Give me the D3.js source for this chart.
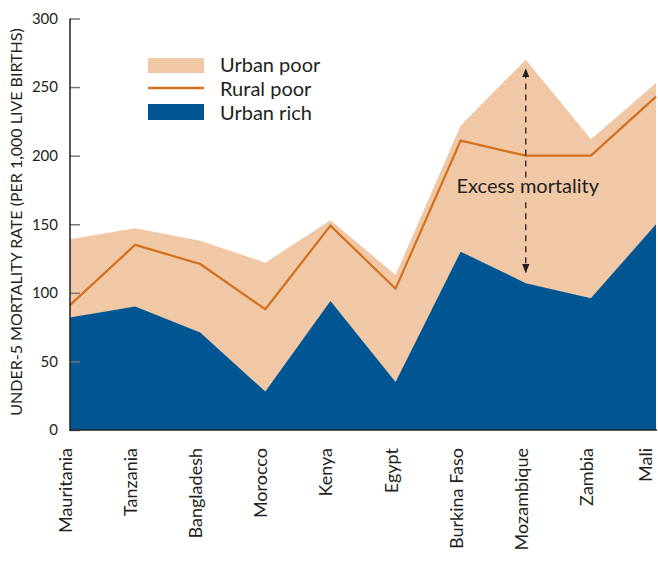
<!DOCTYPE html>
<html><head><meta charset="utf-8">
<script src="https://cdn.jsdelivr.net/npm/d3@7"></script>
<style>
body{margin:0;background:#fff;}
svg{display:block;font-family:Lato,"Open Sans",sans-serif;}
</style></head>
<body><svg id="c" width="658" height="561"></svg>
<script>
const countries = ["Mauritania","Tanzania","Bangladesh","Morocco","Kenya","Egypt","Burkina Faso","Mozambique","Zambia","Mali"];
const urbanPoor = [139, 147, 138, 122, 153, 113, 222, 270, 212, 253];
const ruralPoor = [91, 135, 121, 88, 149, 103, 211, 200, 200, 243];
const urbanRich = [82, 90, 71, 28, 94, 35, 130, 107, 96, 150];
const yTicks = [0, 50, 100, 150, 200, 250, 300];
const annotationLabel = "Excess mortality";
const annotationCountry = "Mozambique";
const arrowRange = [263, 115];
const arrowGap = [184, 166];

const svg = d3.select("#c");
const x = d3.scalePoint().domain(countries).range([70, 656]);
const y = d3.scaleLinear().domain([0, 300]).range([430, 18.5]);

const cPoor = "#f0c8a6", cRural = "#d2701e", cRich = "#005593";

const area = vals => d3.area().x((d,i)=>x(countries[i])).y0(y(0)).y1(d=>y(d))(vals);
svg.append("path").attr("d", area(urbanPoor)).attr("fill", cPoor);
svg.append("path").attr("d", area(urbanRich)).attr("fill", cRich);
svg.append("path").attr("d", d3.line().x((d,i)=>x(countries[i])).y(d=>y(d))(ruralPoor))
  .attr("fill","none").attr("stroke", cRural).attr("stroke-width", 2.2);

// Y axis
const ya = svg.append("g").attr("transform","translate(70,0)")
  .call(d3.axisLeft(y).tickValues(yTicks).tickSize(-10).tickPadding(22));
ya.select(".domain").remove();
ya.selectAll(".tick line").attr("stroke","#777").attr("stroke-width",1.5);
ya.selectAll(".tick text").attr("font-size",15).attr("fill","#231f20").attr("font-family","Lato,sans-serif").attr("x",-12);
svg.append("line").attr("x1",70).attr("x2",70).attr("y1",y(300)).attr("y2",y(0)+1).attr("stroke","#231f20").attr("stroke-width",1.5);
svg.append("line").attr("x1",69.3).attr("x2",657).attr("y1",y(0)).attr("y2",y(0)).attr("stroke","#231f20").attr("stroke-width",1.5);

svg.append("text").attr("transform","translate(22,222) rotate(-90)").attr("text-anchor","middle")
  .attr("font-size",16).attr("fill","#231f20").text("UNDER-5 MORTALITY RATE (PER 1,000 LIVE BIRTHS)");

// X labels
svg.append("g").selectAll("text").data(countries).join("text")
  .attr("transform", d=>`translate(${Math.min(x(d)+2, 652)},448) rotate(-90)`)
  .attr("text-anchor","end").attr("font-size",18).attr("fill","#231f20").text(d=>d);

// Legend
const lg = svg.append("g");
lg.append("rect").attr("x",148).attr("y",58).attr("width",56).attr("height",15).attr("fill",cPoor);
lg.append("line").attr("x1",148).attr("x2",204).attr("y1",88).attr("y2",88).attr("stroke",cRural).attr("stroke-width",2.5);
lg.append("rect").attr("x",148).attr("y",104).attr("width",56).attr("height",16).attr("fill",cRich);
["Urban poor","Rural poor","Urban rich"].forEach((t,i)=>{
  lg.append("text").attr("x",220).attr("y",72+i*24).attr("font-size",20).attr("fill","#231f20").text(t);
});

// Annotation
svg.append("defs").html(`<marker id="ah" viewBox="0 0 10 10" refX="9" refY="5" markerWidth="7" markerHeight="9" orient="auto-start-reverse"><path d="M0,1 L10,5 L0,9 z" fill="#231f20"/></marker>`);
const ax = x(annotationCountry);
svg.append("line").attr("x1",ax).attr("x2",ax).attr("y1",y(arrowGap[0])).attr("y2",y(arrowRange[0]))
  .attr("stroke","#231f20").attr("stroke-width",1.3).attr("stroke-dasharray","6,5").attr("marker-end","url(#ah)");
svg.append("line").attr("x1",ax).attr("x2",ax).attr("y1",y(arrowGap[1])).attr("y2",y(arrowRange[1]))
  .attr("stroke","#231f20").attr("stroke-width",1.3).attr("stroke-dasharray","6,5").attr("marker-end","url(#ah)");
svg.append("text").attr("x",ax+2).attr("y",193).attr("text-anchor","middle").attr("font-size",20)
  .attr("fill","#231f20").text(annotationLabel);
</script></body></html>
